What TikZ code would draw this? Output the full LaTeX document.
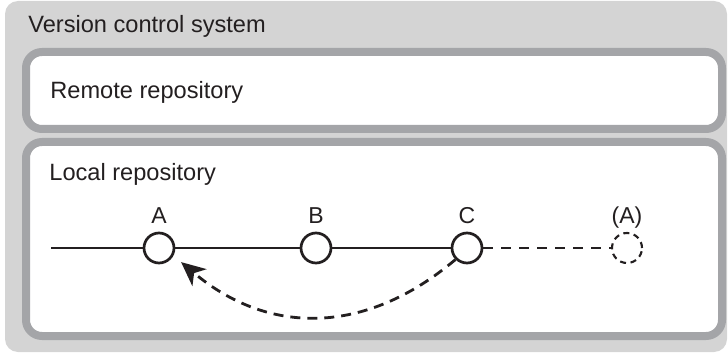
\documentclass[tikz,border=0pt]{standalone}
\usepackage{fontspec}
\setmainfont{Liberation Sans}
\usetikzlibrary{arrows.meta}
\definecolor{panelgrey}{HTML}{D4D4D4}
\definecolor{framegrey}{HTML}{A4A5A8}
\definecolor{inkblack}{HTML}{231F20}

\begin{document}
\begin{tikzpicture}[x=0.5pt,y=-0.5pt,line join=round,
    boxtitle/.style={anchor=base west,inner sep=0pt,text=inkblack,
                     font=\fontsize{11.8}{14}\selectfont},
    repobox/.style={fill=white,draw=framegrey,line width=4pt,
                    rounded corners=8pt},
    commit/.style={circle,draw=inkblack,fill=white,line width=1.35pt,
                   minimum size=15pt,inner sep=0pt},
    ghostcommit/.style={circle,draw=inkblack,line width=1.05pt,
                        dash pattern=on 3pt off 2.3pt,
                        minimum size=15pt,inner sep=0pt},
    committag/.style={anchor=base,inner sep=0pt,label distance=4.2pt,
                      text=inkblack,font=\fontsize{11.5}{13}\selectfont},
    history/.style={draw=inkblack,line width=1.35pt},
    pending/.style={draw=inkblack,line width=1.4pt,
                    dash pattern=on 5pt off 4pt}]
  \useasboundingbox (0,0) rectangle (728,353);

  % Outer panel and the two repositories
  \fill[panelgrey,rounded corners=6.5pt] (5,1) rectangle (727,352);
  \node[boxtitle] (vcs) at (28,33) {Version control system};
  \draw[repobox] (26,52) rectangle (722,129);
  \node[boxtitle] (remote) at (50,99) {Remote repository};
  \draw[repobox] (26,142) rectangle (722,336);
  \node[boxtitle] (local) at (49,180) {Local repository};

  % Commit history of the local repository
  \coordinate (origin) at (51,248);
  \node[commit,label={[committag]90:A}] (a) at (159,248) {};
  \node[commit,label={[committag]90:B}] (b) at (316,248) {};
  \node[commit,label={[committag]90:C}] (c) at (467,248) {};
  \node[ghostcommit,label={[committag]90:(A)}] (a2) at (627,248) {};
  \draw[history] (origin) -- (a) -- (b) -- (c);
  \draw[pending] (c) -- (a2);

  % Going back from C to A
  \draw[pending,dash pattern=on 5pt off 3.5pt,shorten >=5pt,
        -{Stealth[length=12pt,width=11pt,inset=3.5pt]}]
    (c.225) .. controls +(-90,76) and +(95,80) .. (a.-28);
\end{tikzpicture}
\end{document}
